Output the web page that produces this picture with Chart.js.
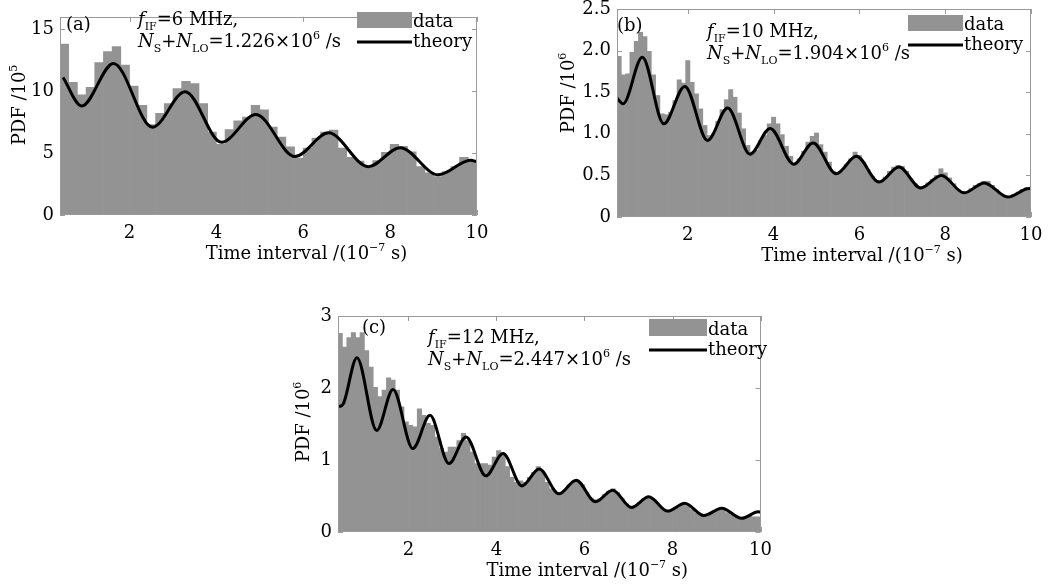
<!DOCTYPE html>
<html>
<head>
<meta charset="utf-8">
<script src="https://cdn.jsdelivr.net/npm/chart.js@4.4.1/dist/chart.umd.min.js"></script>
<style>
  html, body { margin: 0; padding: 0; background: #fff; }
  body { width: 1058px; height: 586px; position: relative; overflow: hidden; }
  .panel { position: absolute; }
</style>
</head>
<body>
<div class="panel" style="left:0px; top:0px"><canvas id="graficoA" width="500" height="280"></canvas></div>
<div class="panel" style="left:530px; top:-10px"><canvas id="graficoB" width="528" height="290"></canvas></div>
<div class="panel" style="left:280px; top:296px"><canvas id="graficoC" width="500" height="290"></canvas></div>
<script>
// ---- datos (a): fIF = 6 MHz, bins de 0.2 ----
const binsA = [0.5, 0.7, 0.9, 1.1, 1.3, 1.5, 1.7, 1.9, 2.1, 2.3,
  2.5, 2.7, 2.9, 3.1, 3.3, 3.5, 3.7, 3.9, 4.1, 4.3,
  4.5, 4.7, 4.9, 5.1, 5.3, 5.5, 5.7, 5.9, 6.1, 6.3,
  6.5, 6.7, 6.9, 7.1, 7.3, 7.5, 7.7, 7.9, 8.1, 8.3,
  8.5, 8.7, 8.9, 9.1, 9.3, 9.5, 9.7, 9.9];
const pdfA = [13.8, 10.7, 9.7, 10.3, 12.3, 13.2, 13.6, 12.1, 10.4, 8.85,
  7.3, 8.2, 9.0, 10.2, 10.8, 10.6, 9.0, 6.7, 5.7, 6.9,
  7.6, 7.9, 8.85, 8.5, 7.1, 6.3, 5.5, 4.6, 5.4, 6.2,
  6.7, 6.85, 5.4, 4.65, 4.35, 3.9, 4.4, 5.05, 5.7, 5.55,
  5.1, 3.9, 3.4, 3.1, 3.5, 3.9, 4.65, 4.3];
const teoriaAx = [0.47, 0.9, 1.63, 2.53, 3.28, 4.12, 4.91, 5.81, 6.58, 7.5, 8.23, 9.11, 9.85, 10.0];
const teoriaAy = [11.1, 8.8, 12.24, 7.09, 9.95, 5.87, 8.11, 4.72, 6.63, 3.9, 5.43, 3.24, 4.42, 4.3];
const yTicksA = [0, 5, 10, 15];

// ---- datos (b): fIF = 10 MHz, bins de 0.1 ----
const binsB = [0.4, 0.5, 0.6, 0.7, 0.8, 0.9, 1.0, 1.1, 1.2, 1.3,
  1.4, 1.5, 1.6, 1.7, 1.8, 1.9, 2.0, 2.1, 2.2, 2.3,
  2.4, 2.5, 2.6, 2.7, 2.8, 2.9, 3.0, 3.1, 3.2, 3.3,
  3.4, 3.5, 3.6, 3.7, 3.8, 3.9, 4.0, 4.1, 4.2, 4.3,
  4.4, 4.5, 4.6, 4.7, 4.8, 4.9, 5.0, 5.1, 5.2, 5.3,
  5.4, 5.5, 5.6, 5.7, 5.8, 5.9, 6.0, 6.1, 6.2, 6.3,
  6.4, 6.5, 6.6, 6.7, 6.8, 6.9, 7.0, 7.1, 7.2, 7.3,
  7.4, 7.5, 7.6, 7.7, 7.8, 7.9, 8.0, 8.1, 8.2, 8.3,
  8.4, 8.5, 8.6, 8.7, 8.8, 8.9, 9.0, 9.1, 9.2, 9.3,
  9.4, 9.5, 9.6, 9.7, 9.8, 9.9, 10.0];
const pdfB = [1.93, 1.71, 1.72, 1.98, 2.11, 2.22, 2.17, 1.99, 1.71, 1.46,
  1.24, 1.23, 1.26, 1.40, 1.65, 1.61, 1.88, 1.62, 1.48, 1.30,
  1.10, 0.98, 1.00, 1.15, 1.29, 1.41, 1.53, 1.44, 1.25, 1.06,
  0.86, 0.78, 0.80, 0.92, 0.98, 1.12, 1.20, 1.12, 0.99, 0.85,
  0.73, 0.64, 0.70, 0.79, 0.90, 0.97, 1.01, 0.87, 0.78, 0.66,
  0.55, 0.52, 0.55, 0.63, 0.70, 0.78, 0.74, 0.66, 0.57, 0.49,
  0.44, 0.43, 0.48, 0.55, 0.60, 0.62, 0.61, 0.55, 0.46, 0.40,
  0.36, 0.37, 0.41, 0.45, 0.50, 0.58, 0.53, 0.47, 0.40, 0.33,
  0.30, 0.30, 0.34, 0.38, 0.40, 0.43, 0.43, 0.38, 0.33, 0.28,
  0.25, 0.25, 0.27, 0.30, 0.33, 0.35, 0.33];
const teoriaBx = [0.35, 0.49, 0.94, 1.44, 1.93, 2.46, 2.93, 3.45, 3.92, 4.47, 4.92,
  5.46, 5.93, 6.46, 6.92, 7.43, 7.91, 8.44, 8.91, 9.46, 9.9, 10.0];
const teoriaBy = [1.43, 1.36, 1.92, 1.12, 1.57, 0.92, 1.31, 0.755, 1.065, 0.635, 0.89,
  0.52, 0.73, 0.42, 0.60, 0.35, 0.50, 0.29, 0.41, 0.24, 0.34, 0.345];
const yTicksB = [0, 0.5, 1.0, 1.5, 2.0, 2.5];

// ---- datos (c): fIF = 12 MHz, bins de 0.1 ----
const binsC = [0.45, 0.55, 0.65, 0.75, 0.85, 0.95, 1.05, 1.15, 1.25, 1.35,
  1.45, 1.55, 1.65, 1.75, 1.85, 1.95, 2.05, 2.15, 2.25, 2.35,
  2.45, 2.55, 2.65, 2.75, 2.85, 2.95, 3.05, 3.15, 3.25, 3.35,
  3.45, 3.55, 3.65, 3.75, 3.85, 3.95, 4.05, 4.15, 4.25, 4.35,
  4.45, 4.55, 4.65, 4.75, 4.85, 4.95, 5.05, 5.15, 5.25, 5.35,
  5.45, 5.55, 5.65, 5.75, 5.85, 5.95, 6.05, 6.15, 6.25, 6.35,
  6.45, 6.55, 6.65, 6.75, 6.85, 6.95, 7.05, 7.15, 7.25, 7.35,
  7.45, 7.55, 7.65, 7.75, 7.85, 7.95, 8.05, 8.15, 8.25, 8.35,
  8.45, 8.55, 8.65, 8.75, 8.85, 8.95, 9.05, 9.15, 9.25, 9.35,
  9.45, 9.55, 9.65, 9.75, 9.85, 9.95];
const pdfC = [2.76, 2.57, 2.70, 2.77, 2.70, 2.77, 2.52, 2.29, 2.01, 1.88,
  1.97, 2.14, 2.11, 1.97, 1.74, 1.53, 1.48, 1.46, 1.71, 1.62,
  1.51, 1.48, 1.32, 1.16, 1.11, 1.18, 1.18, 1.27, 1.37, 1.27,
  1.11, 0.95, 0.95, 0.95, 0.93, 1.04, 1.13, 1.07, 0.91, 0.76,
  0.69, 0.71, 0.69, 0.76, 0.83, 0.91, 0.83, 0.69, 0.60, 0.55,
  0.54, 0.58, 0.65, 0.70, 0.71, 0.66, 0.55, 0.47, 0.45, 0.46,
  0.52, 0.57, 0.60, 0.55, 0.47, 0.39, 0.36, 0.37, 0.41, 0.46,
  0.48, 0.46, 0.40, 0.33, 0.30, 0.30, 0.33, 0.37, 0.39, 0.37,
  0.31, 0.26, 0.24, 0.23, 0.26, 0.29, 0.32, 0.31, 0.27, 0.24,
  0.21, 0.20, 0.20, 0.22, 0.21, 0.21];
const teoriaCx = [0.42, 0.52, 0.83, 1.28, 1.65, 2.10, 2.49, 2.92, 3.31, 3.76, 4.15, 4.58, 4.97,
  5.42, 5.81, 6.25, 6.64, 7.07, 7.46, 7.89, 8.28, 8.71, 9.12, 9.57, 9.95, 10.0];
const teoriaCy = [1.74, 1.78, 2.42, 1.41, 1.98, 1.16, 1.62, 0.95, 1.32, 0.78, 1.09, 0.64, 0.875,
  0.53, 0.72, 0.42, 0.58, 0.34, 0.49, 0.29, 0.40, 0.23, 0.33, 0.19, 0.28, 0.275];
const yTicksC = [0, 1, 2, 3];

const ticksX = [2, 4, 6, 8, 10];

// ---- estilo ----
const GRIS = '#939393';
const MARCO = '#9a9a9a';
const FAMILIA = '"DejaVu Serif", serif';
const TAM = 18;

function fuente(estilo, size) {
  const s = (estilo === 'sub' || estilo === 'sup') ? Math.round(size * 0.6) : size;
  return (estilo === 'i' ? 'italic ' : '') + s + 'px ' + FAMILIA;
}

// texto con partes en cursiva, subíndice y superíndice
function dibujarTexto(ctx, partes, x, y, size, centrado) {
  let total = 0;
  partes.forEach(p => { ctx.font = fuente(p[1], size); total += ctx.measureText(p[0]).width; });
  let cx = centrado ? x - total / 2 : x;
  ctx.textAlign = 'left';
  ctx.textBaseline = 'alphabetic';
  partes.forEach(p => {
    ctx.font = fuente(p[1], size);
    const dy = p[1] === 'sub' ? size * 0.28 : (p[1] === 'sup' ? -size * 0.42 : 0);
    ctx.fillText(p[0], cx, y + dy);
    cx += ctx.measureText(p[0]).width;
  });
}

function linea(ctx, x1, y1, x2, y2) {
  ctx.beginPath(); ctx.moveTo(x1, y1); ctx.lineTo(x2, y2); ctx.stroke();
}

// marco, marcas hacia dentro, leyenda y anotaciones
function crearDecor(cfg) {
  return {
    id: 'decor',
    beforeDatasetsDraw(chart) {
      const { ctx, chartArea: a, scales: { x, y } } = chart;
      ctx.save();
      ctx.strokeStyle = MARCO;
      ctx.lineWidth = 1;
      x.ticks.forEach(t => {
        const px = Math.round(x.getPixelForValue(t.value)) + 0.5;
        linea(ctx, px, a.bottom, px, a.bottom - 5);
        linea(ctx, px, a.top, px, a.top + 5);
      });
      y.ticks.forEach(t => {
        const py = Math.round(y.getPixelForValue(t.value)) + 0.5;
        linea(ctx, a.left, py, a.left + 5, py);
        linea(ctx, a.right, py, a.right - 5, py);
      });
      ctx.restore();
    },
    afterDatasetsDraw(chart) {
      const { ctx, chartArea: a } = chart;
      ctx.save();
      ctx.strokeStyle = MARCO;
      ctx.lineWidth = 1;
      ctx.strokeRect(Math.round(a.left) + 0.5, Math.round(a.top) + 0.5,
        Math.round(a.right - a.left) - 1, Math.round(a.bottom - a.top) - 1);
      ctx.restore();
    },
    afterDraw(chart) {
      const { ctx, chartArea: a } = chart;
      ctx.save();
      ctx.fillStyle = '#000';
      // etiqueta del panel
      dibujarTexto(ctx, [[cfg.etiqueta, '']], cfg.posEtiqueta[0], cfg.posEtiqueta[1], TAM, false);
      // anotaciones
      dibujarTexto(ctx, [['f', 'i'], ['IF', 'sub'], ['=' + cfg.fIF + ' MHz,', '']],
        cfg.posTexto[0], cfg.posTexto[1], TAM, false);
      dibujarTexto(ctx, [['N', 'i'], ['S', 'sub'], ['+', ''], ['N', 'i'], ['LO', 'sub'],
        ['=' + cfg.tasa + '\u00d710', ''], ['6', 'sup'], [' /s', '']],
        cfg.posTexto[0], cfg.posTexto[1] + 22, TAM, false);
      // leyenda
      const L = cfg.leyenda;
      ctx.fillStyle = GRIS;
      ctx.fillRect(L.x, L.y, L.w, L.h);
      ctx.strokeStyle = '#000';
      ctx.lineWidth = 3;
      linea(ctx, L.x, L.y + L.h + 14, L.x + L.w, L.y + L.h + 14);
      ctx.fillStyle = '#000';
      dibujarTexto(ctx, [['data', '']], L.x + L.w + 1, L.y + L.h - 1, TAM, false);
      dibujarTexto(ctx, [['theory', '']], L.x + L.w + 1, L.y + L.h + 19, TAM, false);
      // título eje x
      const cxT = (a.left + a.right) / 2 + 38;
      dibujarTexto(ctx, [['Time interval /(10', ''], ['\u22127', 'sup'], [' s)', '']],
        cxT, a.bottom + 44, TAM, true);
      // título eje y
      ctx.translate(cfg.tituloY[0] + 6.5, cfg.tituloY[1]);
      ctx.rotate(-Math.PI / 2);
      dibujarTexto(ctx, [['PDF /10', ''], [cfg.exponente, 'sup']], 0, 0, TAM, true);
      ctx.restore();
    }
  };
}

function crearPanel(id, cfg) {
  const canvas = document.getElementById(id);
  const W = canvas.width, H = canvas.height, A = cfg.area;
  new Chart(canvas, {
    type: 'bar',
    data: {
      datasets: [
        {
          type: 'line', label: 'theory', order: 0,
          data: cfg.teoX.map((x, i) => ({ x: x, y: cfg.teoY[i] })),
          borderColor: '#000', borderWidth: 3, pointRadius: 0,
          cubicInterpolationMode: 'monotone', fill: false
        },
        {
          type: 'bar', label: 'data', order: 1,
          data: cfg.bins.map((x, i) => ({ x: x, y: cfg.pdf[i] })),
          backgroundColor: GRIS, borderWidth: 0,
          barPercentage: 1, categoryPercentage: 1
        }
      ]
    },
    options: {
      responsive: false,
      animation: false,
      devicePixelRatio: 1,
      layout: { padding: { left: 0, top: A.t, right: W - A.r, bottom: 0 } },
      plugins: { legend: { display: false }, tooltip: { enabled: false } },
      scales: {
        x: {
          type: 'linear', min: cfg.xMin, max: 10, offset: false,
          grid: { display: false, drawTicks: false }, border: { display: false },
          afterBuildTicks: s => { s.ticks = ticksX.map(v => ({ value: v })); },
          afterFit: s => { s.height = H - A.b; },
          ticks: { color: '#000', font: { family: FAMILIA, size: TAM }, padding: 8, maxRotation: 0, autoSkip: false }
        },
        y: {
          type: 'linear', min: 0, max: cfg.yMax,
          grid: { display: false, drawTicks: false }, border: { display: false },
          afterBuildTicks: s => { s.ticks = cfg.yTicks.map(v => ({ value: v })); },
          afterFit: s => { s.width = A.l; },
          ticks: { color: '#000', font: { family: FAMILIA, size: TAM }, padding: 6, callback: cfg.formato }
        }
      }
    },
    plugins: [crearDecor(cfg)]
  });
}

crearPanel('graficoA', {
  bins: binsA, pdf: pdfA, teoX: teoriaAx, teoY: teoriaAy, yTicks: yTicksA,
  xMin: 0.4, yMax: 16, formato: v => String(v),
  area: { l: 60, t: 7, r: 477, b: 215 },
  etiqueta: '(a)', posEtiqueta: [66, 30], fIF: '6', tasa: '1.226', posTexto: [138, 25],
  leyenda: { x: 357, y: 12, w: 55, h: 16 }, tituloY: [18, 105], exponente: '5'
});
crearPanel('graficoB', {
  bins: binsB, pdf: pdfB, teoX: teoriaBx, teoY: teoriaBy, yTicks: yTicksB,
  xMin: 0.35, yMax: 2.5, formato: v => (v === 0 ? '0' : v.toFixed(1)),
  area: { l: 87, t: 19, r: 501, b: 227 },
  etiqueta: '(b)', posEtiqueta: [87, 41], fIF: '10', tasa: '1.904', posTexto: [177, 47],
  leyenda: { x: 378, y: 25, w: 55, h: 16 }, tituloY: [37, 103], exponente: '6'
});
crearPanel('graficoC', {
  bins: binsC, pdf: pdfC, teoX: teoriaCx, teoY: teoriaCy, yTicks: yTicksC,
  xMin: 0.4, yMax: 3, formato: v => String(v),
  area: { l: 58, t: 20, r: 488, b: 236 },
  etiqueta: '(c)', posEtiqueta: [82, 37], fIF: '12', tasa: '2.447', posTexto: [148, 47],
  leyenda: { x: 369, y: 23, w: 58, h: 17 }, tituloY: [22, 126], exponente: '6'
});
</script>
</body>
</html>
